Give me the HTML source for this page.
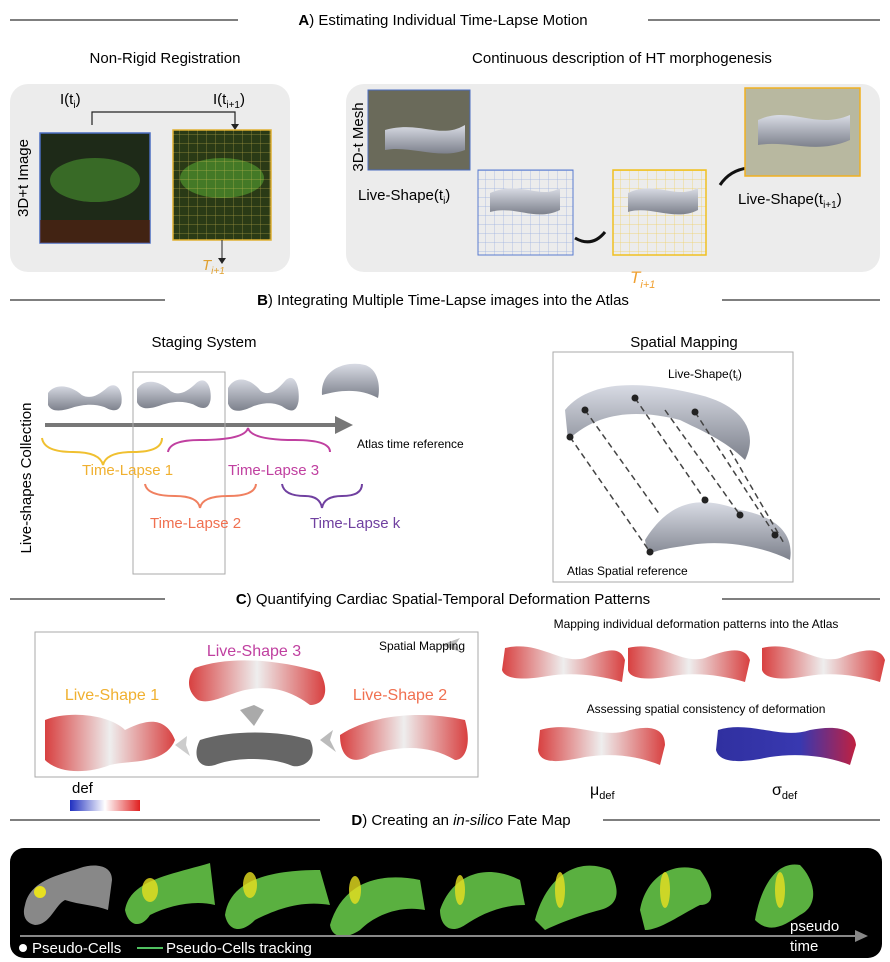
<!DOCTYPE html>
<html><head><meta charset="utf-8"><style>
body{margin:0;background:#fff;}
#c{position:relative;width:890px;height:962px;overflow:hidden;font-family:"Liberation Sans",sans-serif;color:#222;}
</style></head><body><div id="c">
<svg width="890" height="962" style="position:absolute;left:0;top:0" font-family="Liberation Sans, sans-serif">
<defs>
<linearGradient id="gs" x1="0" y1="0" x2="0" y2="1"><stop offset="0" stop-color="#d8dbe4"/><stop offset="1" stop-color="#7d818c"/></linearGradient>
<linearGradient id="rd" x1="0" x2="1"><stop offset="0" stop-color="#d84040"/><stop offset=".5" stop-color="#eee"/><stop offset="1" stop-color="#d84040"/></linearGradient>
<linearGradient id="bl" x1="0" x2="1"><stop offset="0" stop-color="#3030a0"/><stop offset=".6" stop-color="#3838b0"/><stop offset="1" stop-color="#c02040"/></linearGradient>
<linearGradient id="cb" x1="0" x2="1"><stop offset="0" stop-color="#2030c0"/><stop offset=".5" stop-color="#fff"/><stop offset="1" stop-color="#e02020"/></linearGradient>
<pattern id="gb" width="9" height="9" patternUnits="userSpaceOnUse"><path d="M9,0 V9 H0" fill="none" stroke="#9ab0e0" stroke-width=".7"/></pattern>
<pattern id="gy" width="9" height="9" patternUnits="userSpaceOnUse"><path d="M9,0 V9 H0" fill="none" stroke="#f0d060" stroke-width=".7"/></pattern>
<path id="sh" d="M0,10 C10,0 30,2 45,12 C55,16 65,14 80,4 C92,-2 100,8 98,20 C95,30 85,28 75,24 C60,20 45,22 35,24 C20,28 5,30 0,22Z"/>
</defs>
<g stroke="#333" stroke-width="1.2">
<line x1="10" y1="20" x2="238" y2="20"/><line x1="648" y1="20" x2="880" y2="20"/>
<line x1="10" y1="300" x2="165" y2="300"/><line x1="722" y1="300" x2="880" y2="300"/>
<line x1="10" y1="599" x2="165" y2="599"/><line x1="722" y1="599" x2="880" y2="599"/>
<line x1="10" y1="820" x2="320" y2="820"/><line x1="603" y1="820" x2="880" y2="820"/>
</g>
<text x="443" y="25" font-size="15" text-anchor="middle"><tspan font-weight="bold">A</tspan>) Estimating Individual Time-Lapse Motion</text>
<text x="443" y="305" font-size="15" text-anchor="middle"><tspan font-weight="bold">B</tspan>) Integrating Multiple Time-Lapse images into the Atlas</text>
<text x="443" y="604" font-size="15" text-anchor="middle"><tspan font-weight="bold">C</tspan>) Quantifying Cardiac Spatial-Temporal Deformation Patterns</text>
<text x="461" y="825" font-size="15" text-anchor="middle"><tspan font-weight="bold">D</tspan>) Creating an <tspan font-style="italic">in-silico</tspan> Fate Map</text>
<text x="165" y="63" font-size="15" text-anchor="middle">Non-Rigid Registration</text>
<text x="622" y="63" font-size="15" text-anchor="middle">Continuous description of HT morphogenesis</text>
<rect x="10" y="84" width="280" height="188" rx="18" fill="#ececec"/>
<rect x="346" y="84" width="534" height="188" rx="18" fill="#ececec"/>
<text x="28" y="178" font-size="15" transform="rotate(-90 28 178)" text-anchor="middle">3D+t Image</text>
<text x="60" y="104" font-size="15">I(t<tspan font-size="10" dy="4">i</tspan><tspan dy="-4">)</tspan></text>
<text x="213" y="104" font-size="15">I(t<tspan font-size="10" dy="4">i+1</tspan><tspan dy="-4">)</tspan></text>
<path d="M92,125 V112 H235 V128" fill="none" stroke="#222" stroke-width="1.2"/><path d="M231,124 L235,130 L239,124Z" fill="#222"/>
<rect x="40" y="133" width="110" height="110" fill="#1e2a18" stroke="#4a6cc0" stroke-width="1.5"/>
<ellipse cx="95" cy="180" rx="45" ry="22" fill="#3f7a2a" opacity=".8"/><rect x="40" y="220" width="110" height="23" fill="#5a2010" opacity=".6"/>
<rect x="173" y="130" width="98" height="110" fill="#2a3a16" stroke="#e0b030" stroke-width="1.5"/>
<ellipse cx="222" cy="178" rx="42" ry="20" fill="#4b8a2a" opacity=".8"/>
<rect x="173" y="130" width="98" height="110" fill="url(#gy)" opacity=".6"/>
<line x1="222" y1="240" x2="222" y2="262" stroke="#222"/><path d="M218,258 L222,264 L226,258Z" fill="#222"/>
<text x="202" y="270" font-size="15" font-style="italic" fill="#e0a030">T<tspan font-size="10" dy="4">i+1</tspan></text>
<rect x="368" y="90" width="102" height="80" fill="#6a6a5a" stroke="#4a6cc0"/>
<path d="M385,130 C420,120 440,140 465,125 L465,150 C440,160 410,145 385,150Z" fill="url(#gs)"/>
<text x="363" y="137" font-size="15" transform="rotate(-90 363 137)" text-anchor="middle">3D-t Mesh</text>
<text x="358" y="200" font-size="15">Live-Shape(t<tspan font-size="10" dy="4">i</tspan><tspan dy="-4">)</tspan></text>
<rect x="478" y="170" width="95" height="85" fill="url(#gb)" stroke="#5a7cd0"/>
<path d="M490,193 C520,180 540,200 560,188 L560,210 C535,222 515,205 490,212Z" fill="url(#gs)"/>
<path d="M575,238 Q592,248 605,232" fill="none" stroke="#111" stroke-width="3"/>
<rect x="613" y="170" width="93" height="85" fill="url(#gy)" stroke="#f0c020" stroke-width="1.5"/>
<path d="M628,193 C655,180 675,200 698,188 L698,210 C675,222 650,205 628,212Z" fill="url(#gs)"/>
<text x="630" y="283" font-size="17" font-style="italic" fill="#f0a030">T<tspan font-size="11" dy="5">i+1</tspan></text>
<path d="M720,185 Q730,170 748,168" fill="none" stroke="#111" stroke-width="3"/>
<rect x="745" y="88" width="115" height="88" fill="#b8b8a0" stroke="#f0b020" stroke-width="1.5"/>
<path d="M758,120 C790,105 815,130 850,115 L850,140 C815,155 790,140 758,145Z" fill="url(#gs)"/>
<text x="738" y="204" font-size="15">Live-Shape(t<tspan font-size="10" dy="4">i+1</tspan><tspan dy="-4">)</tspan></text>
<text x="31" y="478" font-size="15" transform="rotate(-90 31 478)" text-anchor="middle">Live-shapes Collection</text>
<text x="204" y="347" font-size="15" text-anchor="middle">Staging System</text>
<text x="684" y="347" font-size="15" text-anchor="middle">Spatial Mapping</text>
<use href="#sh" transform="translate(48,383) scale(0.75,1)" fill="url(#gs)"/>
<use href="#sh" transform="translate(137,378) scale(0.75,1.1)" fill="url(#gs)"/>
<use href="#sh" transform="translate(228,375) scale(0.72,1.3)" fill="url(#gs)"/>
<path d="M322,395 C320,370 345,360 365,365 C380,370 380,390 378,398 C360,388 340,390 322,395Z" fill="url(#gs)"/>
<rect x="45" y="423" width="295" height="4" fill="#777"/><path d="M335,416 L353,425 L335,434Z" fill="#777"/>
<text x="357" y="448" font-size="12">Atlas time reference</text>
<rect x="133" y="372" width="92" height="202" fill="none" stroke="#aaa"/>
<path d="M42,438 Q44,452 73,452 Q100,452 103,465 Q106,452 133,452 Q162,452 162,438" fill="none" stroke="#f0c030" stroke-width="2"/>
<text x="82" y="475" font-size="15" fill="#f0b030">Time-Lapse 1</text>
<path d="M168,452 Q170,440 200,440 Q245,440 248,428 Q251,440 295,440 Q330,440 330,452" fill="none" stroke="#c040a0" stroke-width="2"/>
<text x="228" y="475" font-size="15" fill="#c040a0">Time-Lapse 3</text>
<path d="M145,484 Q147,496 175,496 Q198,496 200,508 Q202,496 228,496 Q255,496 256,484" fill="none" stroke="#f08060" stroke-width="2"/>
<text x="150" y="528" font-size="15" fill="#f07050">Time-Lapse 2</text>
<path d="M282,484 Q284,496 305,496 Q320,496 322,508 Q324,496 342,496 Q362,496 362,484" fill="none" stroke="#7040a0" stroke-width="2"/>
<text x="310" y="528" font-size="15" fill="#7040a0">Time-Lapse k</text>
<rect x="553" y="352" width="240" height="230" fill="#fff" stroke="#aaa"/>
<text x="668" y="378" font-size="12">Live-Shape(t<tspan font-size="8" dy="3">i</tspan><tspan dy="-3">)</tspan></text>
<path d="M565,410 C590,380 640,380 700,395 C740,405 760,430 745,460 C725,440 700,430 680,420 C640,410 600,410 568,440Z" fill="url(#gs)"/>
<path d="M645,540 C670,500 700,495 740,510 C770,515 795,530 790,560 C760,545 720,540 690,545 C670,548 655,550 648,555Z" fill="url(#gs)"/>
<g stroke="#444" stroke-dasharray="6,4" stroke-width="1.5"><line x1="570" y1="437" x2="650" y2="552"/><line x1="585" y1="410" x2="660" y2="515"/><line x1="635" y1="398" x2="705" y2="500"/><line x1="665" y1="410" x2="740" y2="515"/><line x1="695" y1="412" x2="775" y2="535"/><line x1="730" y1="450" x2="785" y2="545"/></g>
<g fill="#222"><circle cx="570" cy="437" r="3.5"/><circle cx="585" cy="410" r="3.5"/><circle cx="635" cy="398" r="3.5"/><circle cx="695" cy="412" r="3.5"/><circle cx="650" cy="552" r="3.5"/><circle cx="705" cy="500" r="3.5"/><circle cx="740" cy="515" r="3.5"/><circle cx="775" cy="535" r="3.5"/></g>
<text x="567" y="575" font-size="12">Atlas Spatial reference</text>
<rect x="35" y="632" width="443" height="145" fill="#fff" stroke="#aaa"/>
<path d="M441,645 L460,638 L455,645 L460,652Z" fill="#bbb"/>
<text x="465" y="650" font-size="12" text-anchor="end">Spatial Mapping</text>
<text x="254" y="656" font-size="16" fill="#c040a0" text-anchor="middle">Live-Shape 3</text>
<path d="M195,668 C230,655 280,660 320,672 C330,690 325,705 310,705 C290,690 270,685 245,690 C225,695 210,705 198,700 C185,690 188,675 195,668Z" fill="url(#rd)"/>
<path d="M240,710 L254,705 L264,710 L254,726Z" fill="#aaa"/>
<path d="M200,740 C230,730 280,730 310,740 C320,760 300,770 290,765 C270,757 235,757 215,765 C198,770 192,755 200,740Z" fill="#666"/>
<path d="M320,740 L333,730 L330,740 L336,752Z" fill="#bbb"/><path d="M175,745 L187,736 L186,745 L190,756Z" fill="#ccc"/>
<text x="112" y="700" font-size="16" fill="#f0b030" text-anchor="middle">Live-Shape 1</text>
<path d="M45,720 C70,710 110,715 125,730 C145,720 165,715 175,740 C165,765 130,760 110,765 C90,773 60,775 45,760Z" fill="url(#rd)"/>
<text x="400" y="700" font-size="16" fill="#f07050" text-anchor="middle">Live-Shape 2</text>
<path d="M340,735 C370,715 420,710 465,720 C472,745 465,760 455,760 C430,745 400,745 370,755 C355,765 340,760 340,735Z" fill="url(#rd)"/>
<text x="72" y="793" font-size="15">def</text>
<rect x="70" y="800" width="70" height="11" fill="url(#cb)"/>
<text x="696" y="628" font-size="12" text-anchor="middle">Mapping individual deformation patterns into the Atlas</text>
<path d="M505,648 C540,640 560,665 585,658 C605,650 620,645 625,660 L622,682 C600,675 570,672 548,676 C525,680 505,680 502,670Z" fill="url(#rd)"/>
<path d="M628,648 C660,640 680,665 705,658 C725,650 745,645 750,660 L745,682 C722,675 695,672 672,676 C650,680 630,680 628,670Z" fill="url(#rd)"/>
<path d="M762,648 C795,640 815,665 840,658 C860,650 880,645 885,660 L880,682 C858,675 830,672 808,676 C785,680 765,680 762,670Z" fill="url(#rd)"/>
<text x="706" y="713" font-size="12" text-anchor="middle">Assessing spatial consistency of deformation</text>
<path d="M540,730 C575,720 600,740 630,730 C650,725 665,728 665,745 L660,765 C635,755 610,753 585,757 C560,762 540,765 538,750Z" fill="url(#rd)"/>
<path d="M718,730 C750,720 780,740 810,730 C835,725 855,728 856,745 L850,765 C825,755 795,753 770,757 C745,762 720,765 716,750Z" fill="url(#bl)"/>
<text x="590" y="795" font-size="16">μ<tspan font-size="11" dy="4">def</tspan></text>
<text x="772" y="795" font-size="16">σ<tspan font-size="11" dy="4">def</tspan></text>
<rect x="10" y="848" width="872" height="110" rx="14" fill="#000"/>
<path d="M25,905 C30,880 60,875 80,868 C95,863 112,865 112,880 L108,910 C95,905 80,905 65,900 C55,905 50,925 35,925 C25,923 22,915 25,905Z" fill="#888"/>
<circle cx="40" cy="892" r="6" fill="#e8e020"/>
<g fill="#5ab040">
<path d="M125,910 C130,880 170,875 210,863 L215,905 C195,900 170,905 150,915 C140,930 128,925 125,910Z"/>
<path d="M225,915 C230,880 270,870 320,870 L330,905 C300,900 275,910 255,920 C240,935 228,930 225,915Z"/>
<path d="M330,925 C340,890 370,870 420,880 L425,910 C400,905 375,915 360,930 C345,940 332,938 330,925Z"/>
<path d="M440,910 C450,880 480,860 520,880 L525,905 C500,905 480,915 465,925 C450,935 440,925 440,910Z"/>
<path d="M535,920 C545,880 575,855 610,870 C620,890 620,905 600,910 C580,915 555,925 545,930 Z"/>
<path d="M640,910 C645,880 670,860 700,870 C715,890 715,905 700,905 C680,915 660,930 645,930 Z"/>
<path d="M755,920 C760,890 775,860 800,865 C815,880 820,905 800,915 C785,925 770,935 755,920Z"/>
</g>
<g fill="#e8e020" opacity=".8"><ellipse cx="150" cy="890" rx="8" ry="12"/><ellipse cx="250" cy="885" rx="7" ry="13"/><ellipse cx="355" cy="890" rx="6" ry="14"/><ellipse cx="460" cy="890" rx="5" ry="15"/><ellipse cx="560" cy="890" rx="5" ry="18"/><ellipse cx="665" cy="890" rx="5" ry="18"/><ellipse cx="780" cy="890" rx="5" ry="18"/></g>
<line x1="20" y1="936" x2="860" y2="936" stroke="#888" stroke-width="2"/><path d="M855,930 L868,936 L855,942Z" fill="#888"/>
<circle cx="23" cy="948" r="4" fill="#fff"/>
<text x="32" y="953" font-size="15" fill="#fff">Pseudo-Cells</text>
<line x1="137" y1="948" x2="163" y2="948" stroke="#50c060" stroke-width="2"/>
<text x="166" y="953" font-size="15" fill="#fff">Pseudo-Cells tracking</text>
<text x="790" y="931" font-size="15" fill="#fff">pseudo</text>
<text x="790" y="951" font-size="15" fill="#fff">time</text>
</svg>
</div></body></html>
